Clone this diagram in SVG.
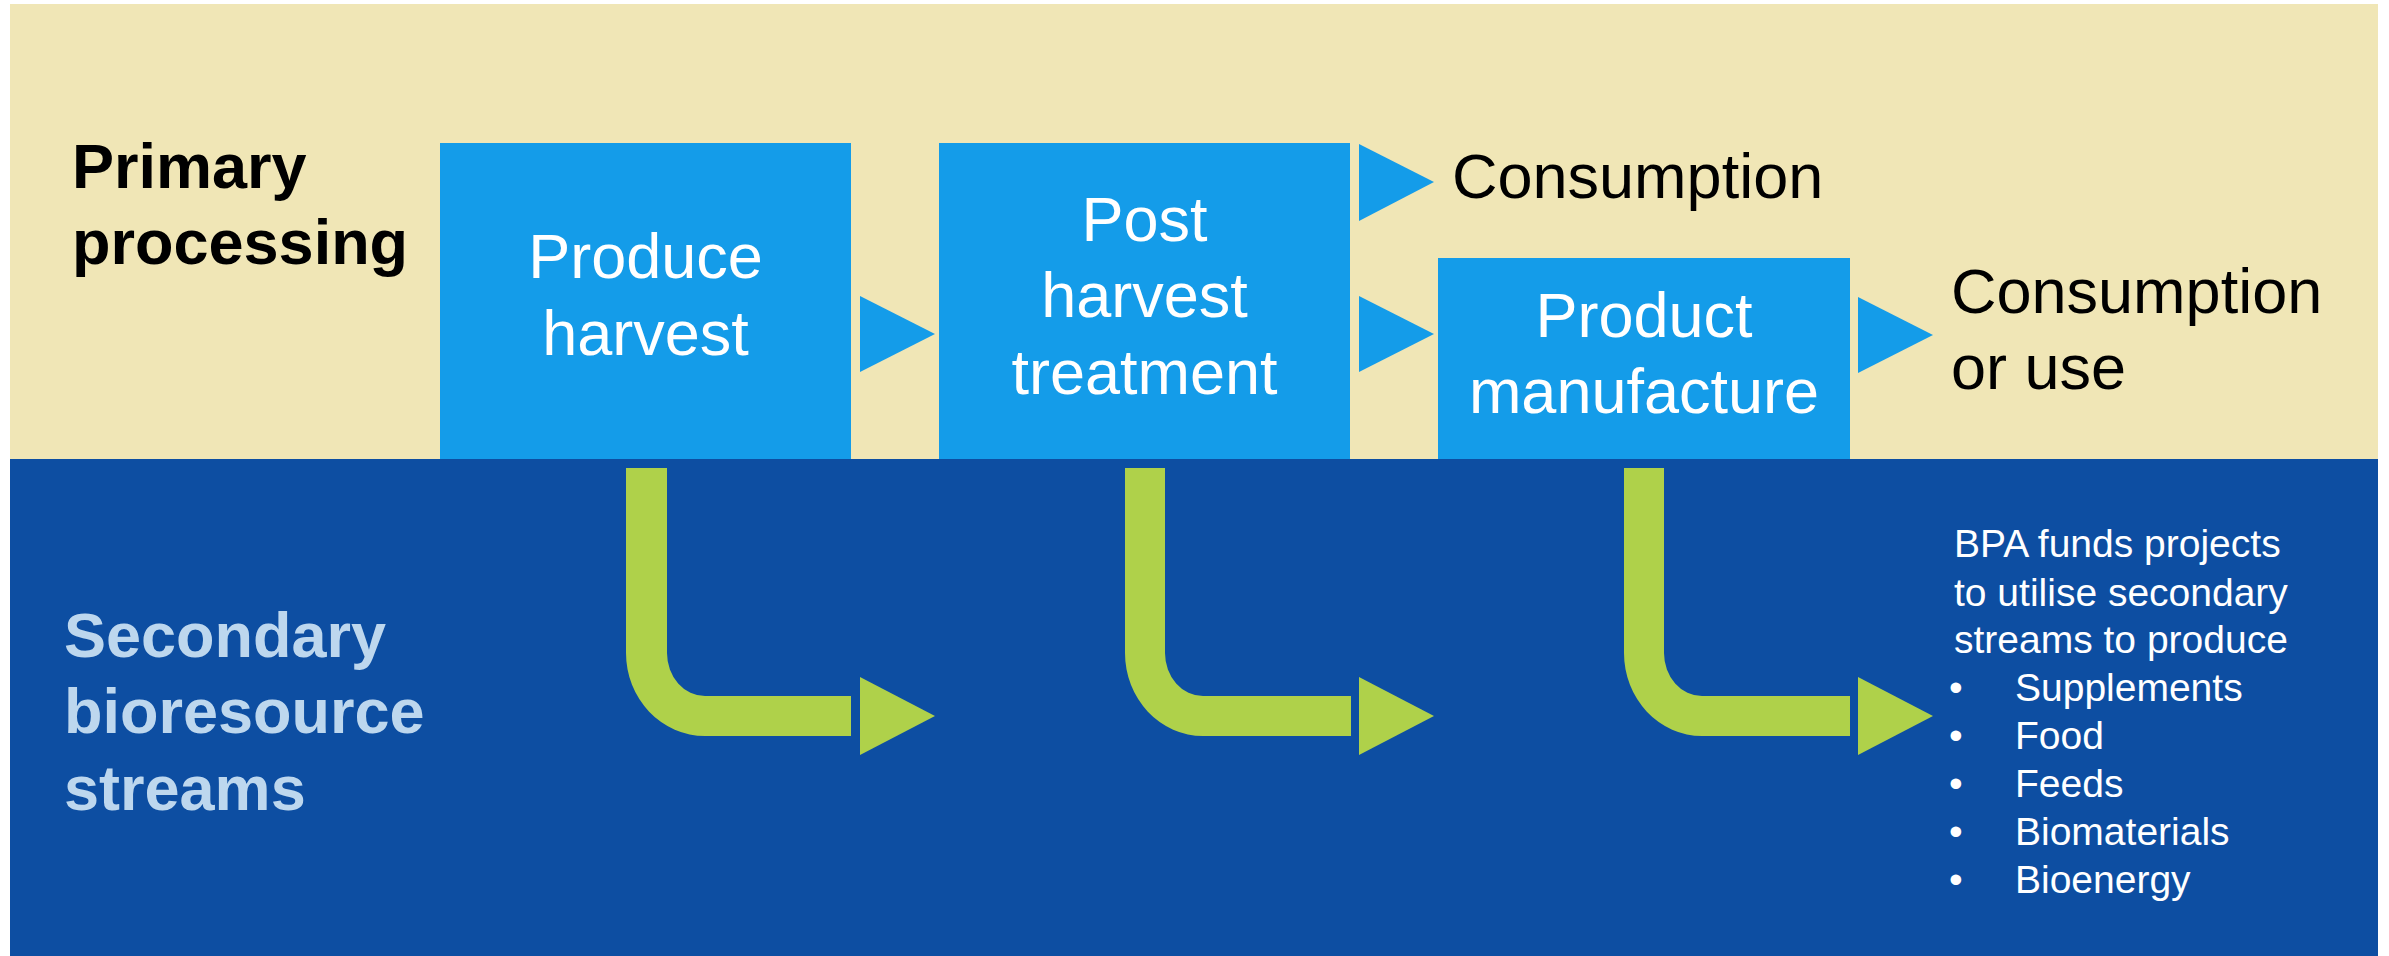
<svg xmlns="http://www.w3.org/2000/svg" width="2389" height="956" viewBox="0 0 2389 956">
<style>
.t{font-family:"Liberation Sans",Arial,sans-serif}
.box{fill:#149CE9}
.bt{fill:#fff;font-size:63px;text-anchor:middle}
.blk{fill:#000;font-size:63px}
.arr{fill:#149CE9}
.grn{fill:#AFD14A}
.sm{fill:#fff;font-size:39px}
</style>
<rect x="0" y="0" width="2389" height="956" fill="#fff"/>
<rect id="primary-band" x="10" y="4" width="2368" height="455" fill="#F0E6B6"/>
<rect id="secondary-band" x="10" y="459" width="2368" height="497" fill="#0D4EA2"/>
<g id="label-primary"><text class="t" font-weight="bold" font-size="63" fill="#000" x="72" y="188">Primary</text><text class="t" font-weight="bold" font-size="63" fill="#000" x="72" y="264">processing</text></g>
<g id="label-secondary" fill="#BDD7EE"><text class="t" font-weight="bold" font-size="63" x="64" y="657">Secondary</text><text class="t" font-weight="bold" font-size="63" x="64" y="733">bioresource</text><text class="t" font-weight="bold" font-size="63" x="64" y="810">streams</text></g>
<g id="produce-harvest"><rect class="box" x="440" y="143" width="411" height="316"/><text class="t bt" x="645.5" y="278">Produce</text><text class="t bt" x="645.5" y="355">harvest</text></g>
<g id="post-harvest"><rect class="box" x="939" y="143" width="411" height="316"/><text class="t bt" x="1144.5" y="241">Post</text><text class="t bt" x="1144.5" y="317">harvest</text><text class="t bt" x="1144.5" y="394">treatment</text></g>
<g id="product-manufacture"><rect class="box" x="1438" y="258" width="412" height="201"/><text class="t bt" x="1644" y="337">Product</text><text class="t bt" x="1644" y="413">manufacture</text></g>
<g id="consumption"><text class="t blk" x="1452" y="198">Consumption</text></g>
<g id="consumption-use"><text class="t blk" x="1951" y="313">Consumption</text><text class="t blk" x="1951" y="389">or use</text></g>
<g id="bpa-text" class="t sm"><text x="1954" y="557">BPA funds projects</text><text x="1954" y="606">to utilise secondary</text><text x="1954" y="653">streams to produce</text><text x="1949" y="701">•</text><text x="2015" y="701">Supplements</text><text x="1949" y="749">•</text><text x="2015" y="749">Food</text><text x="1949" y="797">•</text><text x="2015" y="797">Feeds</text><text x="1949" y="845">•</text><text x="2015" y="845">Biomaterials</text><text x="1949" y="893">•</text><text x="2015" y="893">Bioenergy</text></g>
<g id="connectors">
<polygon class="arr" points="860,296 935,334 860,372"/>
<polygon class="arr" points="1359,144 1434,182 1359,221"/>
<polygon class="arr" points="1359,296 1434,334 1359,372"/>
<polygon class="arr" points="1858,297 1933,335 1858,373"/>
<path class="grn" d="M626,468 H667 V653 A38,43 0 0 0 705,696 H851 V736 H705 A79,83 0 0 1 626,653 Z"/>
<polygon class="grn" points="860,677 935,716 860,755"/>
<path class="grn" d="M1125,468 H1165 V653 A38,43 0 0 0 1203,696 H1351 V736 H1203 A78,83 0 0 1 1125,653 Z"/>
<polygon class="grn" points="1359,677 1434,716 1359,755"/>
<path class="grn" d="M1624,468 H1664 V653 A38,43 0 0 0 1702,696 H1850 V736 H1702 A78,83 0 0 1 1624,653 Z"/>
<polygon class="grn" points="1858,677 1933,716 1858,755"/>
</g>
</svg>
